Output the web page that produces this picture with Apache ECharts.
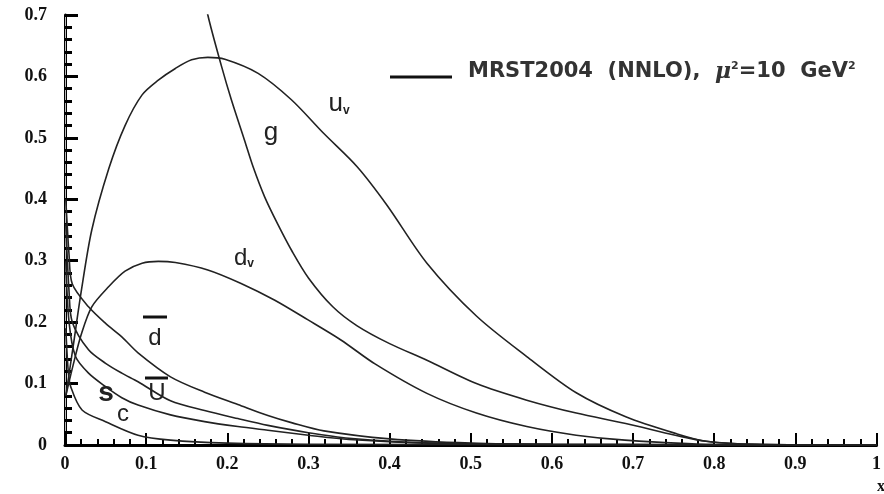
<!DOCTYPE html>
<html>
<head>
    <meta charset="utf-8">
    <script type="text/javascript" src="https://cdn.jsdelivr.net/npm/echarts@6/dist/echarts.min.js"></script>
    <title>MRST2004 parton distributions</title>
</head>
<body style="margin:0;background:#fff;">
    <div id="container" style="width:884px;height:494px;"></div>
    <script type="text/javascript">
    // x * f(x) values, [x, xf]
    var uValence = [[0.001, 0.08], [0.01, 0.16], [0.02, 0.25], [0.033, 0.35], [0.054, 0.45], [0.074, 0.52],
        [0.095, 0.57], [0.115, 0.594], [0.136, 0.613], [0.156, 0.627], [0.176, 0.631], [0.197, 0.628],
        [0.238, 0.605], [0.279, 0.562], [0.319, 0.507], [0.36, 0.453], [0.397, 0.39], [0.446, 0.296],
        [0.507, 0.21], [0.569, 0.144], [0.63, 0.085], [0.691, 0.046], [0.752, 0.019], [0.79, 0.006],
        [0.85, 0.001], [1.0, 0]];
    var dValence = [[0.001, 0.08], [0.01, 0.13], [0.02, 0.18], [0.033, 0.225], [0.054, 0.258], [0.074, 0.283],
        [0.095, 0.296], [0.115, 0.299], [0.136, 0.297], [0.176, 0.285], [0.217, 0.263], [0.258, 0.236],
        [0.299, 0.204], [0.34, 0.171], [0.382, 0.132], [0.446, 0.084], [0.507, 0.052], [0.569, 0.03],
        [0.63, 0.016], [0.69, 0.008], [0.8, 0.001], [1.0, 0]];
    var gluon = [[0.15, 0.86], [0.176, 0.70], [0.193, 0.616], [0.205, 0.562], [0.221, 0.497], [0.232, 0.452],
        [0.246, 0.404], [0.262, 0.36], [0.28, 0.315], [0.3, 0.272], [0.33, 0.225], [0.36, 0.194],
        [0.4, 0.165], [0.446, 0.138], [0.507, 0.10], [0.569, 0.073], [0.63, 0.052],
        [0.691, 0.035], [0.752, 0.016], [0.79, 0.006], [0.85, 0.001], [1.0, 0]];
    var dBar = [[0.001, 0.40], [0.005, 0.31], [0.009, 0.262], [0.029, 0.225], [0.05, 0.198], [0.07, 0.176],
        [0.09, 0.15], [0.13, 0.111], [0.172, 0.086], [0.213, 0.066], [0.25, 0.048], [0.28, 0.036],
        [0.319, 0.023], [0.4, 0.01], [0.5, 0.003], [0.6, 0.001], [1.0, 0]];
    var uBar = [[0.001, 0.36], [0.005, 0.25], [0.009, 0.2], [0.029, 0.155], [0.05, 0.133], [0.07, 0.117],
        [0.09, 0.103], [0.13, 0.072], [0.172, 0.056], [0.213, 0.043], [0.25, 0.032], [0.3, 0.02],
        [0.35, 0.011], [0.45, 0.003], [0.6, 0.001], [1.0, 0]];
    var strange = [[0.001, 0.30], [0.005, 0.2], [0.013, 0.144], [0.029, 0.117], [0.05, 0.095], [0.07, 0.077],
        [0.09, 0.065], [0.13, 0.049], [0.172, 0.038], [0.213, 0.03], [0.25, 0.024], [0.3, 0.016],
        [0.35, 0.009], [0.45, 0.003], [0.6, 0.001], [1.0, 0]];
    var charm = [[0.001, 0.19], [0.004, 0.12], [0.007, 0.095], [0.021, 0.057], [0.05, 0.038], [0.09, 0.016],
        [0.13, 0.008], [0.2, 0.003], [0.3, 0.001], [1.0, 0]];

    var xTicks = ['0', '0.1', '0.2', '0.3', '0.4', '0.5', '0.6', '0.7', '0.8', '0.9', '1'];
    var yTicks = ['0', '0.1', '0.2', '0.3', '0.4', '0.5', '0.6', '0.7'];

    var myChart = echarts.init(document.getElementById('container'));

    var curves = [uValence, dValence, gluon, dBar, uBar, strange, charm];
    var names = ['uv', 'dv', 'g', 'dbar', 'ubar', 's', 'c'];

    var tickFont = {
        fontFamily: 'Liberation Serif',
        fontWeight: 'bold',
        fontSize: 18,
        color: '#111'
    };

    var option = {
        animation: false,
        backgroundColor: '#fff',
        grid: { left: 65, right: 2, top: 15, bottom: 49 },
        xAxis: [{
            type: 'value',
            min: 0,
            max: 1,
            interval: 0.1,
            axisLine: { lineStyle: { color: '#000', width: 3 } },
            axisTick: { inside: true, length: 12, lineStyle: { color: '#000', width: 2 } },
            minorTick: { show: true, splitNumber: 5, length: 6, lineStyle: { color: '#000', width: 2 } },
            splitLine: { show: false },
            axisLabel: Object.assign({
                margin: 10,
                formatter: function (v) { return xTicks[Math.round(v * 10)]; }
            }, tickFont)
        }, {
            type: 'value',
            position: 'top',
            min: 0,
            max: 1,
            axisLine: { show: true, lineStyle: { color: '#000', width: 2 } },
            axisTick: { show: false },
            axisLabel: { show: false },
            splitLine: { show: false }
        }],
        yAxis: [{
            type: 'value',
            min: 0,
            max: 0.7,
            interval: 0.1,
            axisLine: { show: true, lineStyle: { color: '#000', width: 3 } },
            axisTick: { show: true, inside: true, length: 13, lineStyle: { color: '#000', width: 3 } },
            minorTick: { show: true, splitNumber: 5, length: 7, lineStyle: { color: '#000', width: 3 } },
            splitLine: { show: false },
            axisLabel: Object.assign({
                margin: 18,
                formatter: function (v) { return yTicks[Math.round(v * 10)]; }
            }, tickFont)
        }, {
            type: 'value',
            position: 'right',
            min: 0,
            max: 0.7,
            axisLine: { show: true, lineStyle: { color: '#bbb', width: 1 } },
            axisTick: { show: false },
            axisLabel: { show: false },
            splitLine: { show: false }
        }],
        series: curves.map(function (d, i) {
            return {
                name: names[i],
                type: 'line',
                data: d,
                smooth: 0.3,
                showSymbol: false,
                clip: true,
                lineStyle: { color: '#222', width: 1.6 }
            };
        }),
        graphic: [
            // legend
            { type: 'line', shape: { x1: 390, y1: 77, x2: 452, y2: 77 }, style: { stroke: '#111', lineWidth: 3 } },
            {
                type: 'text', x: 468, y: 72,
                style: {
                    text: '{a|MRST2004  (NNLO),  }{m|μ}{p|2}{a|=10  GeV}{p|2}',
                    verticalAlign: 'middle',
                    rich: {
                        a: { fontFamily: 'DejaVu Sans', fontWeight: 'bold', fontSize: 21, fill: '#333' },
                        m: { fontFamily: 'DejaVu Serif', fontStyle: 'italic', fontWeight: 'bold', fontSize: 22, fill: '#333' },
                        p: { fontFamily: 'DejaVu Sans', fontWeight: 'bold', fontSize: 11, fill: '#333', verticalAlign: 'top', padding: [0, 0, 10, 0] }
                    }
                }
            },
            // curve labels
            {
                type: 'text', x: 339, y: 104,
                style: {
                    text: '{b|u}{s|v}', align: 'center', verticalAlign: 'middle',
                    rich: {
                        b: { fontFamily: 'Liberation Sans', fontSize: 26, fill: '#222' },
                        s: { fontFamily: 'Liberation Sans', fontWeight: 'bold', fontSize: 12, fill: '#222', verticalAlign: 'bottom' }
                    }
                }
            },
            { type: 'text', x: 271, y: 133, style: { text: 'g', fontFamily: 'Liberation Sans', fontSize: 26, fill: '#222', align: 'center', verticalAlign: 'middle' } },
            {
                type: 'text', x: 244, y: 258,
                style: {
                    text: '{b|d}{s|v}', align: 'center', verticalAlign: 'middle',
                    rich: {
                        b: { fontFamily: 'Liberation Sans', fontSize: 24, fill: '#222' },
                        s: { fontFamily: 'Liberation Sans', fontWeight: 'bold', fontSize: 12, fill: '#222', verticalAlign: 'bottom' }
                    }
                }
            },
            { type: 'text', x: 155, y: 338, style: { text: 'd', fontFamily: 'Liberation Sans', fontSize: 24, fill: '#222', align: 'center', verticalAlign: 'middle' } },
            { type: 'line', shape: { x1: 143, y1: 317, x2: 167, y2: 317 }, style: { stroke: '#111', lineWidth: 3 } },
            { type: 'text', x: 157, y: 393, style: { text: 'U', fontFamily: 'Liberation Sans', fontSize: 24, fill: '#222', align: 'center', verticalAlign: 'middle' } },
            { type: 'line', shape: { x1: 145, y1: 378, x2: 168, y2: 378 }, style: { stroke: '#111', lineWidth: 3 } },
            { type: 'text', x: 106, y: 393, style: { text: 's', fontFamily: 'Liberation Sans', fontWeight: 'bold', fontSize: 28, fill: '#222', align: 'center', verticalAlign: 'middle' } },
            { type: 'text', x: 123, y: 414, style: { text: 'c', fontFamily: 'Liberation Sans', fontSize: 24, fill: '#222', align: 'center', verticalAlign: 'middle' } },
            // x axis name, partly cut at the edge
            { type: 'text', x: 877, y: 487, style: { text: 'x', fontFamily: 'Liberation Serif', fontWeight: 'bold', fontSize: 16, fill: '#111', verticalAlign: 'middle' } }
        ]
    };

    myChart.setOption(option);
    </script>
</body>
</html>
